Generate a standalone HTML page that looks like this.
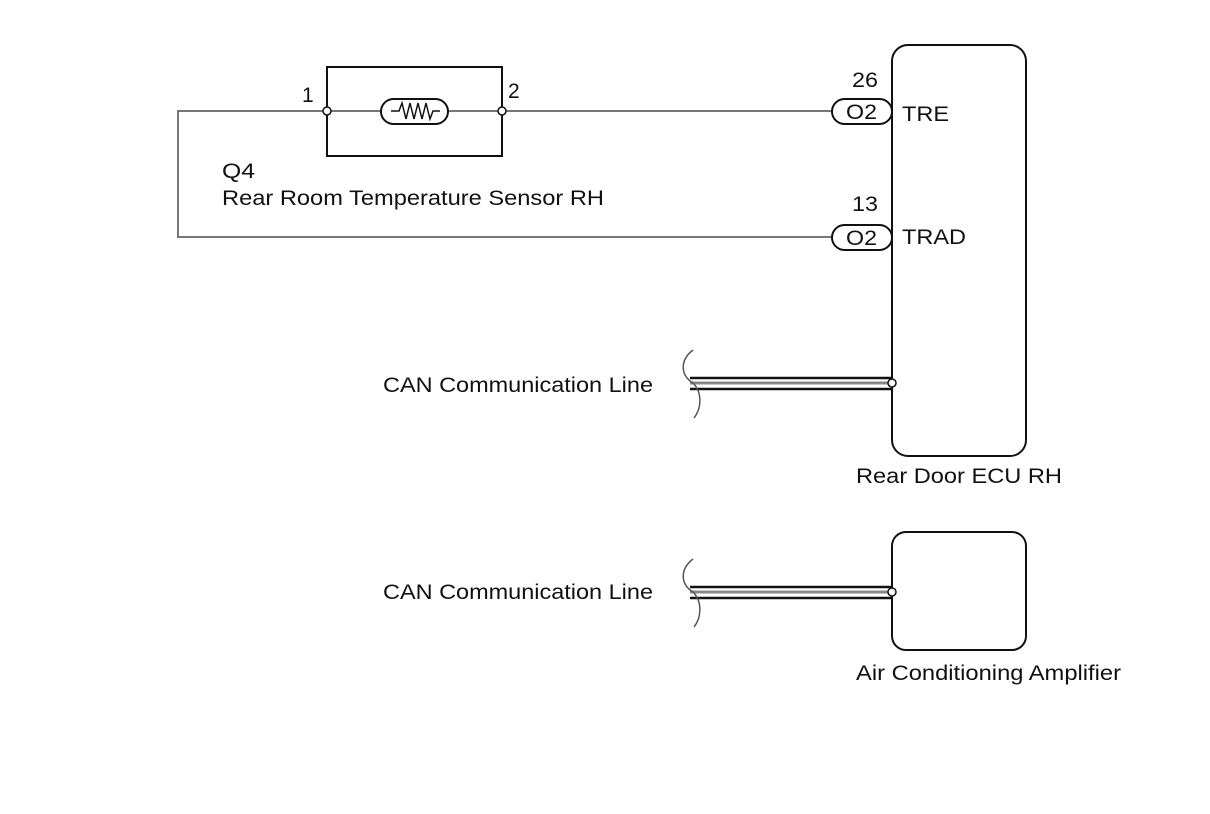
<!DOCTYPE html>
<html><head><style>
html,body{margin:0;padding:0;background:#fff;}
svg{display:block;}
text{font-family:"Liberation Sans",Arial,sans-serif;font-size:21px;fill:#111;}
</style></head><body>
<svg width="1210" height="814" viewBox="0 0 1210 814" xmlns="http://www.w3.org/2000/svg">
<rect x="327" y="67" width="175" height="89" fill="none" stroke="#111" stroke-width="2"/>
<polyline points="832,111 178,111 178,237 832,237" fill="none" stroke="#777" stroke-width="2"/>
<rect x="381" y="99" width="67" height="25" rx="12.5" fill="#fff" stroke="#111" stroke-width="2"/>
<polyline points="391,111 399,111 402,103 406,119 410,103 414,119 418,103 422,119 426,103 430,119 433,111 440,111" fill="none" stroke="#111" stroke-width="1.5"/>
<circle cx="327" cy="111" r="4" fill="#fff" stroke="#111" stroke-width="1.5"/>
<circle cx="502" cy="111" r="4" fill="#fff" stroke="#111" stroke-width="1.5"/>
<text x="302" y="102">1</text>
<text x="508" y="98">2</text>
<text x="222" y="178" textLength="33" lengthAdjust="spacingAndGlyphs">Q4</text>
<text x="222" y="205" textLength="382" lengthAdjust="spacingAndGlyphs">Rear Room Temperature Sensor RH</text>
<rect x="892" y="45" width="134" height="411" rx="16" fill="#fff" stroke="#111" stroke-width="2"/>
<rect x="832" y="99" width="60" height="25" rx="12.5" fill="#fff" stroke="#111" stroke-width="2"/>
<text x="846" y="119" textLength="31" lengthAdjust="spacingAndGlyphs">O2</text>
<text x="852" y="87" textLength="26" lengthAdjust="spacingAndGlyphs">26</text>
<text x="902" y="121" textLength="47" lengthAdjust="spacingAndGlyphs">TRE</text>
<rect x="832" y="225" width="60" height="25" rx="12.5" fill="#fff" stroke="#111" stroke-width="2"/>
<text x="846" y="245" textLength="31" lengthAdjust="spacingAndGlyphs">O2</text>
<text x="852" y="211" textLength="26" lengthAdjust="spacingAndGlyphs">13</text>
<text x="902" y="244" textLength="64" lengthAdjust="spacingAndGlyphs">TRAD</text>
<g>
<line x1="690" y1="378" x2="892" y2="378" stroke="#111" stroke-width="2.5"/>
<line x1="690" y1="383" x2="892" y2="383" stroke="#888" stroke-width="3"/>
<line x1="690" y1="389" x2="892" y2="389" stroke="#111" stroke-width="2.5"/>
<path d="M693,350 C680,360 680,375 693,383 C702,392 702,408 694,418" fill="none" stroke="#555" stroke-width="1.5"/>
<circle cx="892" cy="383" r="4" fill="#fff" stroke="#111" stroke-width="1.5"/>
</g>
<text x="383" y="392" textLength="270" lengthAdjust="spacingAndGlyphs">CAN Communication Line</text>
<text x="856" y="483" textLength="206" lengthAdjust="spacingAndGlyphs">Rear Door ECU RH</text>
<rect x="892" y="532" width="134" height="118" rx="14" fill="#fff" stroke="#111" stroke-width="2"/>
<g>
<line x1="690" y1="587" x2="892" y2="587" stroke="#111" stroke-width="2.5"/>
<line x1="690" y1="592" x2="892" y2="592" stroke="#888" stroke-width="3"/>
<line x1="690" y1="598" x2="892" y2="598" stroke="#111" stroke-width="2.5"/>
<path d="M693,559 C680,569 680,584 693,592 C702,601 702,617 694,627" fill="none" stroke="#555" stroke-width="1.5"/>
<circle cx="892" cy="592" r="4" fill="#fff" stroke="#111" stroke-width="1.5"/>
</g>
<text x="383" y="599" textLength="270" lengthAdjust="spacingAndGlyphs">CAN Communication Line</text>
<text x="856" y="680" textLength="265" lengthAdjust="spacingAndGlyphs">Air Conditioning Amplifier</text>
</svg>
</body></html>
